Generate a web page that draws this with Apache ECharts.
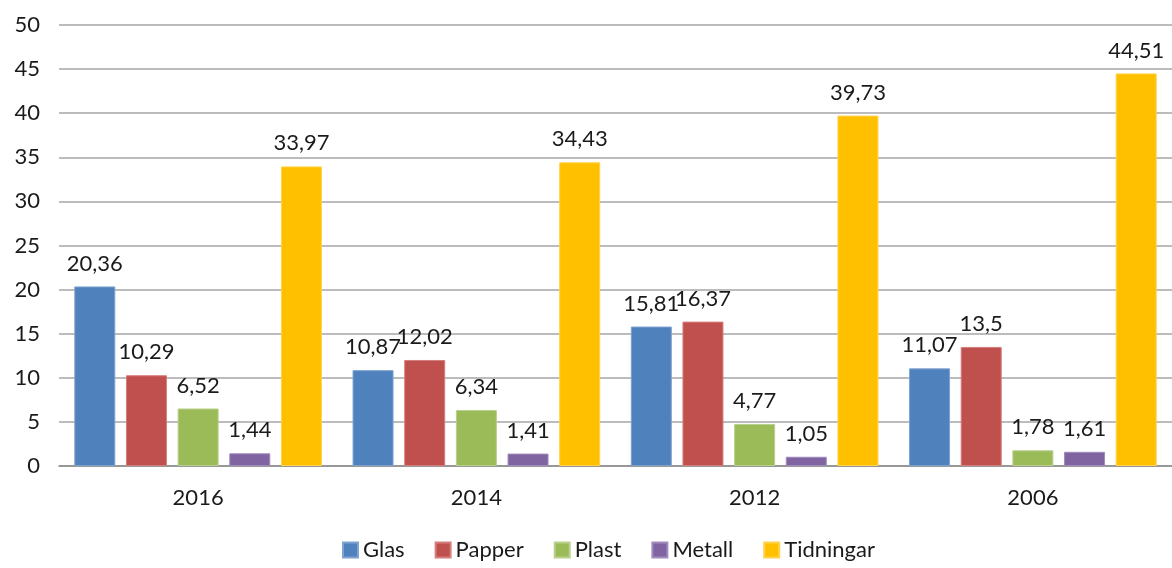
<!DOCTYPE html>
<html>
<head>
<meta charset="utf-8">
<script src="https://cdn.jsdelivr.net/npm/echarts@6/dist/echarts.min.js"></script>
<style>html,body{margin:0;padding:0;background:#fff}#c{width:1172px;height:568px}</style>
</head>
<body>
<div id="c"></div>
<script>
var categories = ['2016', '2014', '2012', '2006'];
var seriesNames = ['Glas', 'Papper', 'Plast', 'Metall', 'Tidningar'];
var glas = [20.36, 10.87, 15.81, 11.07];
var papper = [10.29, 12.02, 16.37, 13.5];
var plast = [6.52, 6.34, 4.77, 1.78];
var metall = [1.44, 1.41, 1.05, 1.61];
var tidningar = [33.97, 34.43, 39.73, 44.51];
var yTicks = [0, 5, 10, 15, 20, 25, 30, 35, 40, 45, 50];
var colors = ['#4F81BD', '#C0504D', '#9BBB59', '#8064A2', '#FFC000'];
var borders = ['#7fa3d0', '#d47f7d', '#b9d18c', '#a08cbd', '#ffd24d'];

var values = [glas, papper, plast, metall, tidningar];
var font = 'Lato, "Open Sans", sans-serif';
var chart = echarts.init(document.getElementById('c'));
chart.setOption({
  animation: false,
  textStyle: {fontFamily: font},
  grid: {left: 59, right: 0, top: 25, bottom: 102, containLabel: false},
  legend: {
    bottom: 2, left: 337, itemWidth: 15, itemHeight: 15, itemGap: 30,
    icon: 'rect',
    textStyle: {fontSize: 22, color: '#1a1a1a', fontFamily: font},
    data: seriesNames
  },
  xAxis: {
    type: 'category', data: categories,
    axisLine: {lineStyle: {color: '#8c8c8c', width: 1.5}},
    axisTick: {show: false},
    axisLabel: {fontSize: 22, color: '#1a1a1a', margin: 21, fontFamily: font}
  },
  yAxis: {
    type: 'value', min: yTicks[0], max: yTicks[yTicks.length - 1], interval: 5,
    axisLine: {show: false}, axisTick: {show: false},
    splitLine: {lineStyle: {color: '#a6a6a6', width: 1.5}},
    axisLabel: {fontSize: 22, color: '#1a1a1a', margin: 19, fontFamily: font}
  },
  series: seriesNames.map(function (n, i) {
    return {
      name: n, type: 'bar', data: values[i],
      barGap: '26%', barCategoryGap: '11%',
      itemStyle: {color: colors[i], borderColor: borders[i], borderWidth: 1},
      label: {
        show: true, position: 'top', distance: 12,
        fontSize: 22, color: '#1a1a1a', fontFamily: font,
        formatter: function (p) { return String(p.value).replace('.', ','); }
      }
    };
  })
});
</script>
</body>
</html>
